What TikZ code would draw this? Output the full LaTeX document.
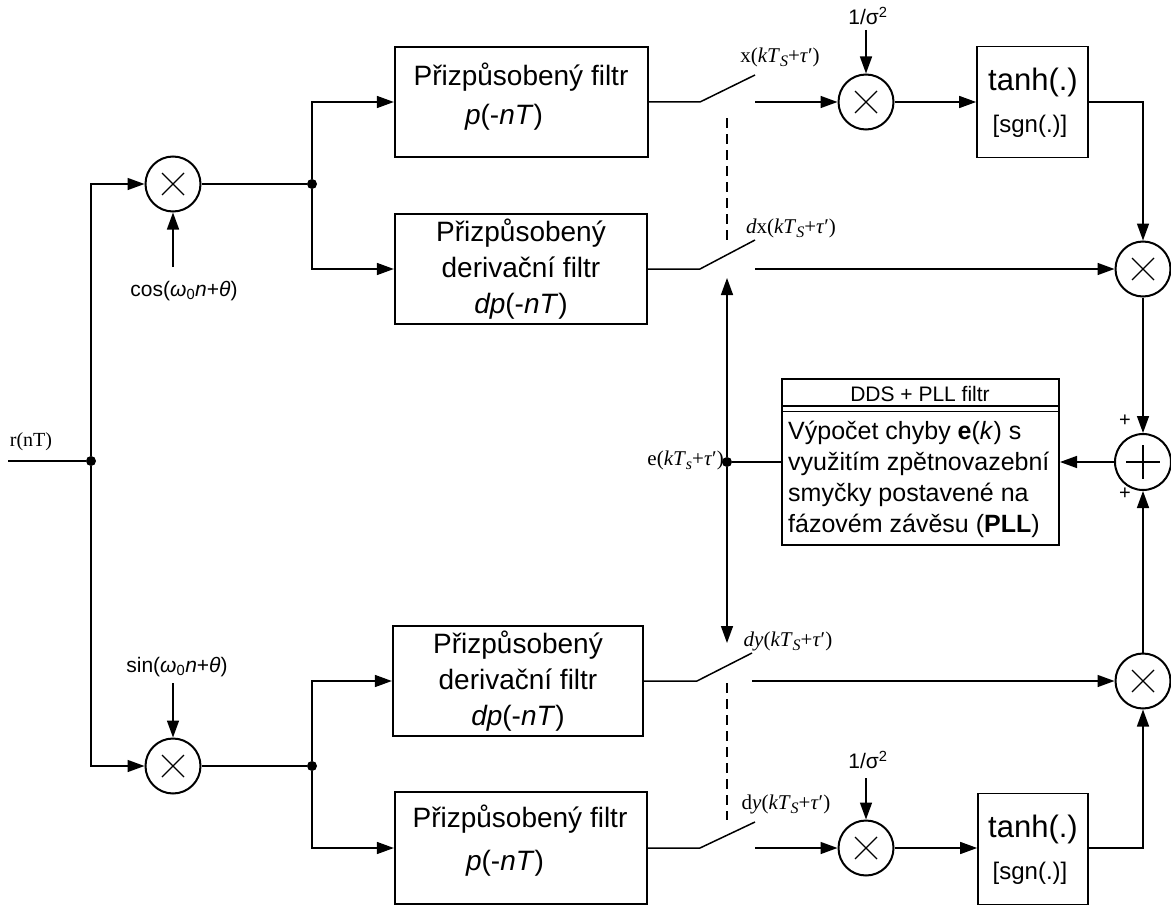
\documentclass[tikz,border=0pt]{standalone}
\usepackage{fontspec}
\setmainfont{Liberation Sans}
\newfontfamily\serif{Liberation Serif}
\usetikzlibrary{arrows.meta}
\newcommand{\smpl}[2]{{\serif\fontsize{21}{25}\selectfont #1(\textit{kT}\raisebox{-4pt}{\fontsize{16}{16}\selectfont\textit{#2}}+\textit{τ}′)}}
\begin{document}
\begin{tikzpicture}[x=1pt,y=-1pt,
  conn/.style={line width=1.5pt},
  arr/.style={conn,-{Triangle[length=17pt,width=12pt]}},
  blk/.style={draw,line width=2.3pt,inner sep=0pt},
  btxt/.style={inner sep=0pt,font=\fontsize{28}{36}\selectfont,align=center},
  lbl/.style={inner sep=1pt,font=\fontsize{21}{25}\selectfont},
  dot/.style={circle,fill,inner sep=0pt,minimum size=10pt},
  mult/.style={circle,draw,line width=2pt,minimum size=55pt,inner sep=0pt,
    path picture={\draw[line width=1.1pt] (path picture bounding box.center) +(-11,-11) -- +(11,11) +(-11,11) -- +(11,-11);}},
  sumc/.style={circle,draw,line width=2pt,minimum size=56pt,inner sep=0pt,
    path picture={\draw[line width=1.1pt] (path picture bounding box.center) +(-17,0) -- +(17,0) +(0,-17) -- +(0,17);}}
]
\useasboundingbox (0,0) rectangle (1171,907);

% multipliers and sum
\node[mult] (m1) at (173,184) {};
\node[mult] (m2) at (173,766) {};
\node[mult] (mx1) at (866,102) {};
\node[mult] (mx2) at (866,848) {};
\node[mult] (mr1) at (1143,269) {};
\node[mult] (mr2) at (1143,681) {};
\node[sumc] (sum) at (1143,462) {};

% filter boxes
\node[blk,minimum width=253pt,minimum height=110pt] (f1) at (521.5,102) {};
\node[btxt] (f1a) at (521,77) {Přizpůsobený filtr};
\node[btxt] (f1b) at (504,117) {\textit{p}(-\textit{nT})};
\node[blk,btxt,minimum width=252pt,minimum height=110pt] (f2) at (521,269) {Přizpůsobený\\derivační filtr\\\textit{dp}(-\textit{nT})};
\node[blk,btxt,minimum width=250pt,minimum height=110pt] (f3) at (518,681) {Přizpůsobený\\derivační filtr\\\textit{dp}(-\textit{nT})};
\node[blk,minimum width=252pt,minimum height=112pt] (f4) at (521,848) {};
\node[btxt] (f4a) at (520,819) {Přizpůsobený filtr};
\node[btxt] (f4b) at (505,863) {\textit{p}(-\textit{nT})};

% tanh boxes
\node[blk,line width=1.7pt,minimum width=111pt,minimum height=111pt] (t1) at (1032.5,102) {};
\node[inner sep=0pt,font=\fontsize{31}{36}\selectfont] (t1a) at (1033,82) {tanh(.)};
\node[inner sep=0pt,font=\fontsize{24}{28}\selectfont] (t1b) at (1030,126) {[sgn(.)]};
\node[blk,line width=1.7pt,minimum width=110pt,minimum height=111pt] (t2) at (1033,849) {};
\node[inner sep=0pt,font=\fontsize{31}{36}\selectfont] (t2a) at (1033,829) {tanh(.)};
\node[inner sep=0pt,font=\fontsize{24}{28}\selectfont] (t2b) at (1030,873) {[sgn(.)]};

% DDS box
\node[blk,line width=2pt,minimum width=277pt,minimum height=166pt] (dds) at (920.5,462) {};
\node[inner sep=0pt,font=\fontsize{21}{25}\selectfont] (ddsh) at (920,394) {DDS + PLL filtr};
\draw[line width=1.2pt] (782,406) -- (1059,406) (782,411.5) -- (1059,411.5);
\node[anchor=north west,inner sep=0pt,align=left,font=\fontsize{25}{31}\selectfont] (ddsb) at (788,421)
  {Výpočet chyby \textbf{e}(\textit{k}) s\\využitím zpětnovazební\\smyčky postavené na\\fázovém závěsu (\textbf{PLL})};

% dots
\node[dot] (d1) at (91,461) {};
\node[dot] (d2) at (312,184) {};
\node[dot] (d3) at (312,766) {};
\node[dot] (d4) at (727,462) {};

% labels
\node[inner sep=1pt,font=\serif\fontsize{20}{24}\selectfont] (rl) at (31,442) {r(nT)};
\node[lbl] (cosl) at (184,291) {cos(\textit{ω}\textsubscript{0}\textit{n}+\textit{θ})};
\node[lbl] (sinl) at (177,667) {sin(\textit{ω}\textsubscript{0}\textit{n}+\textit{θ})};
\node[lbl] (sg1) at (868,16) {1/σ\textsuperscript{2}};
\node[lbl] (sg2) at (868,760) {1/σ\textsuperscript{2}};
\node[inner sep=0pt] (lx) at (780,57) {\smpl{x}{S}};
\node[inner sep=0pt] (ldx) at (791,228) {\smpl{\textit{d}x}{S}};
\node[inner sep=0pt] (ldy) at (788,641) {\smpl{\textit{dy}}{S}};
\node[inner sep=0pt] (ldy2) at (786,804) {\smpl{d\textit{y}}{S}};
\node[inner sep=0pt,anchor=east] (le) at (724,460) {\smpl{e}{s}};
\node[inner sep=0pt,font=\fontsize{20}{24}\selectfont] (p1) at (1125,421) {+};
\node[inner sep=0pt,font=\fontsize{20}{24}\selectfont] (p2) at (1125,494) {+};

% coordinates
\coordinate (rin) at (8,461);
\coordinate (cosa) at (173,267);
\coordinate (sina) at (173,683);
\coordinate (sg1a) at (866,30);
\coordinate (sg2a) at (866,778);
\coordinate (s1a) at (700,102); \coordinate (s1b) at (755,75); \coordinate (s1c) at (755,102);
\coordinate (s2a) at (700,269); \coordinate (s2b) at (755,240); \coordinate (s2c) at (755,269);
\coordinate (s3a) at (697,681); \coordinate (s3b) at (752,653); \coordinate (s3c) at (752,681);
\coordinate (s4a) at (700,848); \coordinate (s4b) at (755,822); \coordinate (s4c) at (755,848);
\coordinate (da1) at (727,118); \coordinate (da2) at (727,240);
\coordinate (db1) at (727,683); \coordinate (db2) at (727,820);
\coordinate (ea) at (727,278); \coordinate (eb) at (727,643);

% connectors
\draw[conn] (rin) -- (d1);
\draw[arr] (d1) |- (m1);
\draw[arr] (d1) |- (m2);
\draw[arr] (cosa) -- (m1);
\draw[arr] (sina) -- (m2);
\draw[conn] (m1) -- (d2);
\draw[conn] (m2) -- (d3);
\draw[arr] (d2) |- (f1);
\draw[arr] (d2) |- (f2);
\draw[arr] (d3) |- (f3);
\draw[arr] (d3) |- (f4);

\draw[conn] (f1.east) -- (s1a) -- (s1b);
\draw[arr] (s1c) -- (mx1);
\draw[conn] (f2.east) -- (s2a) -- (s2b);
\draw[arr] (s2c) -- (mr1);
\draw[conn] (f3.east) -- (s3a) -- (s3b);
\draw[arr] (s3c) -- (mr2);
\draw[conn] (f4.east) -- (s4a) -- (s4b);
\draw[arr] (s4c) -- (mx2);

\draw[conn,dash pattern=on 10pt off 6pt] (da1) -- (da2);
\draw[conn,dash pattern=on 10pt off 6pt] (db1) -- (db2);

\draw[arr] (sg1a) -- (mx1);
\draw[arr] (sg2a) -- (mx2);
\draw[arr] (mx1) -- (mx1.east -| t1.west);
\draw[arr] (mx2) -- (mx2.east -| t2.west);
\draw[arr] (t1.east |- mx1.east) -| (mr1);
\draw[arr] (t2.east |- mx2.east) -| (mr2);
\draw[arr] (mr1) -- (sum);
\draw[arr] (mr2) -- (sum);
\draw[arr] (sum) -- (sum.west -| dds.east);
\draw[conn] (dds.west |- d4) -- (d4);
\draw[arr] (d4) -- (ea);
\draw[arr] (d4) -- (eb);
\end{tikzpicture}
\end{document}
